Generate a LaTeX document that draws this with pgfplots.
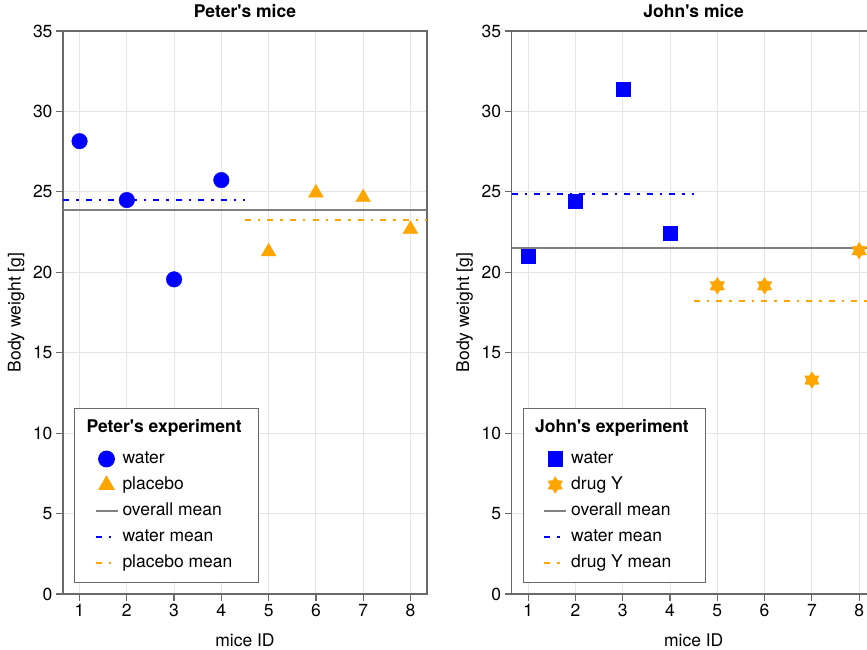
\documentclass[border=0pt]{standalone}
\usepackage{pgfplots}
\pgfplotsset{compat=1.18}
\usepackage{fontspec}
\setmainfont{TeX Gyre Heros}
\definecolor{mblue}{RGB}{0,0,255}
\definecolor{morange}{RGB}{255,165,0}
\definecolor{mgray}{RGB}{128,128,128}
\definecolor{spine}{RGB}{105,105,105}
\newcommand{\q}{\textquotesingle}
\pgfdeclareplotmark{star6}{%
  \pgfpathmoveto{\pgfpointpolar{90}{\pgfplotmarksize}}%
  \pgfpathlineto{\pgfpointpolar{120}{0.6\pgfplotmarksize}}%
  \pgfpathlineto{\pgfpointpolar{150}{\pgfplotmarksize}}%
  \pgfpathlineto{\pgfpointpolar{180}{0.6\pgfplotmarksize}}%
  \pgfpathlineto{\pgfpointpolar{210}{\pgfplotmarksize}}%
  \pgfpathlineto{\pgfpointpolar{240}{0.6\pgfplotmarksize}}%
  \pgfpathlineto{\pgfpointpolar{270}{\pgfplotmarksize}}%
  \pgfpathlineto{\pgfpointpolar{300}{0.6\pgfplotmarksize}}%
  \pgfpathlineto{\pgfpointpolar{330}{\pgfplotmarksize}}%
  \pgfpathlineto{\pgfpointpolar{0}{0.6\pgfplotmarksize}}%
  \pgfpathlineto{\pgfpointpolar{30}{\pgfplotmarksize}}%
  \pgfpathlineto{\pgfpointpolar{60}{0.6\pgfplotmarksize}}%
  \pgfpathclose
  \pgfusepathqfill
}
\pgfplotsset{
  mystyle/.style={
    scale only axis, width=364pt, height=563pt,
    xmin=0.65, xmax=8.35, ymin=0, ymax=35,
    xtick={1,...,8}, ytick={0,5,...,35},
    tick pos=left, tick align=outside,
    major tick length=7pt,
    every tick/.style={spine, line width=1.2pt},
    axis line style={spine, line width=1.5pt},
    grid=major, major grid style={black!10, line width=0.9pt},
    font=\fontsize{17.5}{21}\selectfont,
    ticklabel style={font=\fontsize{17.5}{21}\selectfont},
    /pgf/number format/assume math mode=true,
    title style={at={(axis description cs:0.5,1.0249)}, anchor=center, font=\fontsize{17.5}{21}\selectfont\bfseries},
    xlabel style={at={(axis description cs:0.5,-0.0817)}, anchor=center},
    ylabel style={at={(axis description cs:-0.129,0.5)}, anchor=center},
    xlabel={mice ID}, ylabel={Body weight [g]},
    legend cell align=left,
    legend style={at={(rel axis cs:0.030,0.331)}, anchor=north west,
      draw=spine, line width=1.2pt, inner xsep=10pt, inner ysep=10pt,
      row sep=6.5pt, column sep=2pt,
      nodes={inner sep=2pt, text height=12.5pt, text depth=3pt, line width=0.9pt},
      font=\fontsize{17.5}{21}\selectfont},
  },
  markleg/.style={legend image code/.code={\path (0pt,0pt) (32pt,0pt); \draw[##1] plot coordinates {(21pt,0pt)};}},
  lineleg/.style={legend image code/.code={\path (0pt,0pt); \draw[##1] (10pt,0pt) -- (32pt,0pt);}},
  dashdot/.style={dash pattern=on 6pt off 7pt on 2.5pt off 7pt},
}
\begin{document}
\begin{tikzpicture}
\useasboundingbox (0,0) rectangle (867pt,650pt);
\begin{axis}[mystyle, at={(63pt,56pt)}, anchor=south west, title={Peter\q s mice}]
\addlegendimage{empty legend}
\addlegendentry[text depth=8pt]{\hspace*{-36pt}\textbf{Peter\q s experiment}\hspace*{5pt}}
\addplot[only marks, mark=*, mark size=7.8pt, mblue, mark options={draw=none, fill=mblue}, markleg]
  coordinates {(1,28.15) (2,24.49) (3,19.56) (4,25.73)};
\addlegendentry{water}
\addplot[only marks, mark=triangle*, mark size=8.5pt, morange, mark options={draw=none, fill=morange}, markleg]
  coordinates {(5,21.28) (6,24.94) (7,24.65) (8,22.68)};
\addlegendentry{placebo}
\addplot[mgray, line width=2pt, lineleg] coordinates {(0.65,23.89) (8.35,23.89)};
\addlegendentry{overall mean}
\addplot[mblue, line width=2pt, dashdot, lineleg] coordinates {(0.65,24.47) (4.5,24.47)};
\addlegendentry{water mean}
\addplot[morange, line width=2pt, dashdot, lineleg] coordinates {(4.5,23.28) (8.35,23.28)};
\addlegendentry{placebo mean}
\end{axis}
\begin{axis}[mystyle, at={(511.7pt,56pt)}, anchor=south west, title={John\q s mice}]
\addlegendimage{empty legend}
\addlegendentry[text depth=8pt]{\hspace*{-36pt}\textbf{John\q s experiment}\hspace*{5pt}}
\addplot[only marks, mark=square*, mark size=7pt, mblue, mark options={draw=none, fill=mblue}, markleg]
  coordinates {(1,21.03) (2,24.40) (3,31.37) (4,22.46)};
\addlegendentry{water}
\addplot[only marks, mark=star6, mark size=8.8pt, morange, mark options={fill=morange}, markleg]
  coordinates {(5,19.16) (6,19.16) (7,13.30) (8,21.34)};
\addlegendentry{drug Y}
\addplot[mgray, line width=2pt, lineleg] coordinates {(0.65,21.52) (8.35,21.52)};
\addlegendentry{overall mean}
\addplot[mblue, line width=2pt, dashdot, lineleg] coordinates {(0.65,24.84) (4.5,24.84)};
\addlegendentry{water mean}
\addplot[morange, line width=2pt, dashdot, lineleg] coordinates {(4.5,18.21) (8.35,18.21)};
\addlegendentry{drug Y mean}
\end{axis}
\end{tikzpicture}
\end{document}
